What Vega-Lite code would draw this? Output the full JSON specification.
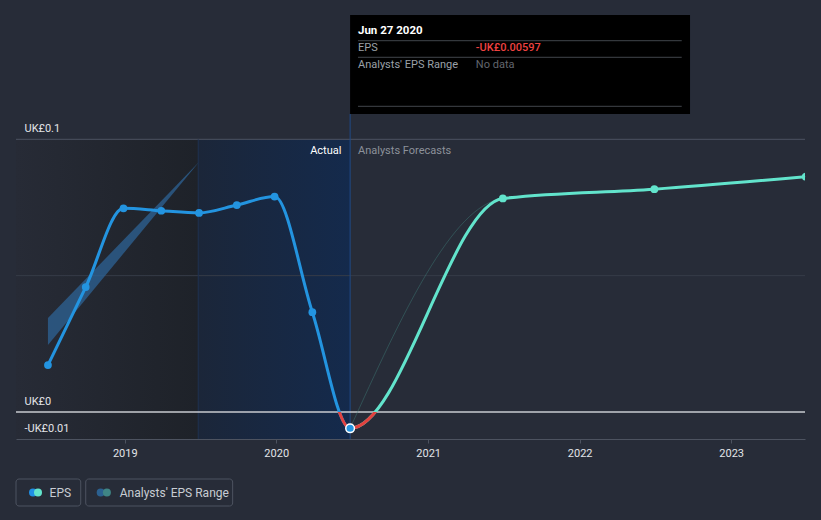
{
  "$schema": "https://vega.github.io/schema/vega-lite/v6.json",
  "width": 789,
  "height": 520,
  "autosize": "none",
  "padding": {"left": 16, "right": 16, "top": 0, "bottom": 0},
  "background": "#272c38",
  "config": {"view": {"stroke": null}, "font": "Roboto", "text": {"font": "Roboto"}},
  "datasets": {
    "eps": [
      {"x": "2018-06-30", "y": 0.0172, "kind": "actual"},
      {"x": "2018-09-29", "y": 0.0458, "kind": "actual"},
      {"x": "2018-12-29", "y": 0.0747, "kind": "actual"},
      {"x": "2019-03-30", "y": 0.0738, "kind": "actual"},
      {"x": "2019-06-29", "y": 0.0730, "kind": "actual"},
      {"x": "2019-09-28", "y": 0.0759, "kind": "actual"},
      {"x": "2019-12-28", "y": 0.0790, "kind": "actual"},
      {"x": "2020-03-28", "y": 0.0366, "kind": "actual"},
      {"x": "2020-06-27", "y": -0.00597, "kind": "current"},
      {"x": "2021-06-30", "y": 0.0783, "kind": "forecast"},
      {"x": "2022-06-30", "y": 0.0817, "kind": "forecast"},
      {"x": "2023-06-30", "y": 0.0863, "kind": "forecast"}
    ],
    "rangeActual": [
      {"x": "2018-06-30", "y": 0.0246, "y2": 0.0345},
      {"x": "2019-06-29", "y": 0.0917, "y2": 0.0917}
    ],
    "rangeForecast": [
      {"x": "2020-06-27", "y": -0.00597},
      {"x": "2021-06-30", "y": 0.0783},
      {"x": "2022-06-30", "y": 0.0817},
      {"x": "2023-06-30", "y": 0.0863}
    ],
    "pastRegion": [{"x": "2018-04-14", "x2": "2019-06-27", "y": 0.1, "y2": -0.0099}],
    "lastYearRegion": [{"x": "2019-06-27", "x2": "2020-06-27", "y": 0.1, "y2": -0.0099}],
    "gridMid": [{"x": "2018-04-14", "x2": "2023-06-28", "y": 0.05}],
    "gridTop": [{"x": "2018-04-14", "x2": "2023-06-28", "y": 0.1}],
    "zero": [{"x": "2018-04-14", "x2": "2023-06-28", "y": 0}],
    "vlineStart": [{"x": "2019-06-27", "y": -0.0099, "y2": 0.1}],
    "vlineNow": [{"x": "2020-06-27", "y": -0.0099, "y2": 0.1093}],
    "secActual": [{"x": "2020-06-06", "y": 0.0957, "label": "Actual"}],
    "secForecast": [{"x": "2020-07-16", "y": 0.0957, "label": "Analysts Forecasts"}],
    "tipBox": [{"x": "2020-06-27", "x2": "2022-09-24", "y": 0.14558, "y2": 0.10928}],
    "tipLines": [
      {"x": "2020-07-16", "x2": "2022-09-04", "y": 0.13616},
      {"x": "2020-07-16", "x2": "2022-09-04", "y": 0.13007},
      {"x": "2020-07-16", "x2": "2022-09-04", "y": 0.1121}
    ],
    "tipTitle": [{"x": "2020-07-16", "y": 0.13971, "label": "Jun 27 2020"}],
    "tipKeys": [
      {"x": "2020-07-16", "y": 0.13337, "label": "EPS"},
      {"x": "2020-07-16", "y": 0.12725, "label": "Analysts' EPS Range"}
    ],
    "tipNeg": [{"x": "2021-04-26", "y": 0.13337, "label": "-UK£0.00597"}],
    "tipNone": [{"x": "2021-04-26", "y": 0.12725, "label": "No data"}],
    "legendBoxes": [
      {"x": "2018-04-14", "x2": "2018-09-17", "y": -0.02457, "y2": -0.03447},
      {"x": "2018-09-29", "x2": "2019-09-18", "y": -0.02457, "y2": -0.03447}
    ],
    "dotEps1": [{"x": "2018-05-25", "y": -0.02952}],
    "dotEps2": [{"x": "2018-06-06", "y": -0.02952}],
    "dotRng1": [{"x": "2018-11-04", "y": -0.02952}],
    "dotRng2": [{"x": "2018-11-19", "y": -0.02952}],
    "legendText": [
      {"x": "2018-07-04", "y": -0.02952, "label": "EPS"},
      {"x": "2018-12-20", "y": -0.02952, "label": "Analysts' EPS Range"}
    ]
  },
  "encoding": {
    "x": {
      "field": "x",
      "type": "temporal",
      "title": null,
      "scale": {
        "type": "utc",
        "nice": false,
        "domain": [
          {"year": 2018, "month": 4, "date": 14, "utc": true},
          {"year": 2023, "month": 6, "date": 28, "utc": true}
        ]
      },
      "axis": {
        "orient": "bottom",
        "offset": -81,
        "values": [
          {"year": 2019, "utc": true},
          {"year": 2020, "utc": true},
          {"year": 2021, "utc": true},
          {"year": 2022, "utc": true},
          {"year": 2023, "utc": true}
        ],
        "format": "%Y",
        "grid": false,
        "tickSize": 4,
        "tickColor": "#4d5360",
        "domainColor": "#4d5360",
        "labelColor": "#e2e4e8",
        "labelFontSize": 11,
        "labelPadding": 4,
        "labelFlush": false,
        "labelFont": "Roboto"
      }
    },
    "y": {
      "field": "y",
      "type": "quantitative",
      "title": null,
      "scale": {"domain": [-0.0396, 0.15108], "nice": false, "zero": false},
      "axis": {
        "orient": "left",
        "zindex": 1,
        "values": [-0.0099, 0, 0.1],
        "labelExpr": "datum.value > 0.05 ? 'UK£0.1' : (datum.value < 0 ? '-UK£0.01' : 'UK£0')",
        "ticks": false,
        "domain": false,
        "grid": false,
        "labelAlign": "left",
        "labelBaseline": "alphabetic",
        "labelPadding": -8,
        "labelOffset": -8,
        "labelColor": "#e2e4e8",
        "labelFontSize": 11,
        "labelFlush": false,
        "labelOverlap": false,
        "labelFont": "Roboto"
      }
    }
  },
  "layer": [
    {
      "data": {"name": "pastRegion"},
      "mark": {"type": "rect", "fill": {"gradient": "linear", "x1": 0, "y1": 0, "x2": 1, "y2": 0, "stops": [{"offset": 0, "color": "#272b36"}, {"offset": 1, "color": "#1e2229"}]}},
      "encoding": {"x2": {"field": "x2"}, "y2": {"field": "y2"}}
    },
    {
      "data": {"name": "lastYearRegion"},
      "mark": {"type": "rect", "fill": {"gradient": "linear", "x1": 0, "y1": 0, "x2": 1, "y2": 0, "stops": [{"offset": 0, "color": "#1b2639"}, {"offset": 1, "color": "#142a4c"}]}},
      "encoding": {"x2": {"field": "x2"}, "y2": {"field": "y2"}}
    },
    {
      "data": {"name": "gridMid"},
      "mark": {"type": "rule", "stroke": "#363c48", "strokeWidth": 1},
      "encoding": {"x2": {"field": "x2"}}
    },
    {
      "data": {"name": "gridTop"},
      "mark": {"type": "rule", "stroke": "#4d5362", "strokeWidth": 1},
      "encoding": {"x2": {"field": "x2"}}
    },
    {
      "data": {"name": "vlineStart"},
      "mark": {"type": "rule", "stroke": "#1f3150", "strokeWidth": 1},
      "encoding": {"y2": {"field": "y2"}}
    },
    {
      "data": {"name": "vlineNow"},
      "mark": {"type": "rule", "stroke": "#1f4a86", "strokeWidth": 1},
      "encoding": {"y2": {"field": "y2"}}
    },
    {
      "data": {"name": "zero"},
      "mark": {"type": "rule", "stroke": "#c9cbd0", "strokeWidth": 1.5},
      "encoding": {"x2": {"field": "x2"}}
    },
    {
      "data": {"name": "rangeActual"},
      "mark": {"type": "area", "fill": "#2e6396", "opacity": 0.75},
      "encoding": {"y2": {"field": "y2"}}
    },
    {
      "data": {"name": "rangeForecast"},
      "mark": {"type": "line", "interpolate": "monotone", "stroke": "#3f7d78", "strokeWidth": 1, "opacity": 0.45},
      "encoding": {}
    },
    {
      "data": {"name": "eps"},
      "mark": {
        "type": "line",
        "interpolate": "monotone",
        "strokeWidth": 3,
        "clip": true,
        "stroke": {"gradient": "linear", "x1": 0, "y1": 0, "x2": 1, "y2": 0, "stops": [
          {"offset": 0, "color": "#2394e0"},
          {"offset": 0.3987, "color": "#2394e0"},
          {"offset": 0.3987, "color": "#62e4cc"},
          {"offset": 1, "color": "#62e4cc"}
        ]}
      },
      "encoding": {}
    },
    {
      "data": {"name": "eps"},
      "mark": {
        "type": "line",
        "interpolate": "monotone",
        "strokeWidth": 3,
        "clip": true,
        "stroke": {"gradient": "linear", "x1": 0, "y1": 0, "x2": 0, "y2": 1, "stops": [
          {"offset": 0, "color": "rgba(226,66,63,0)"},
          {"offset": 0.9353, "color": "rgba(226,66,63,0)"},
          {"offset": 0.9353, "color": "#e2423f"},
          {"offset": 1, "color": "#e2423f"}
        ]}
      },
      "encoding": {}
    },
    {
      "data": {"name": "eps"},
      "transform": [{"filter": "datum.kind == 'actual'"}],
      "mark": {"type": "point", "filled": true, "size": 60, "opacity": 1, "fill": "#2394e0", "clip": true},
      "encoding": {}
    },
    {
      "data": {"name": "eps"},
      "transform": [{"filter": "datum.kind == 'forecast'"}],
      "mark": {"type": "point", "filled": true, "size": 60, "opacity": 1, "fill": "#62e4cc", "clip": true},
      "encoding": {}
    },
    {
      "data": {"name": "eps"},
      "transform": [{"filter": "datum.kind == 'current'"}],
      "mark": {"type": "point", "filled": true, "size": 75, "fill": "#2394e0", "stroke": "#ffffff", "strokeWidth": 1.5, "opacity": 1},
      "encoding": {}
    },
    {
      "data": {"name": "secActual"},
      "mark": {"type": "text", "fontSize": 11, "align": "right", "baseline": "middle", "color": "#ffffff", "font": "Roboto"},
      "encoding": {"text": {"field": "label"}}
    },
    {
      "data": {"name": "secForecast"},
      "mark": {"type": "text", "fontSize": 11, "align": "left", "baseline": "middle", "color": "#8c919a", "font": "Roboto"},
      "encoding": {"text": {"field": "label"}}
    },
    {
      "data": {"name": "tipBox"},
      "mark": {"type": "rect", "fill": "#000000"},
      "encoding": {"x2": {"field": "x2"}, "y2": {"field": "y2"}}
    },
    {
      "data": {"name": "tipLines"},
      "mark": {"type": "rule", "stroke": "#41454c", "strokeWidth": 1},
      "encoding": {"x2": {"field": "x2"}}
    },
    {
      "data": {"name": "tipTitle"},
      "mark": {"type": "text", "align": "left", "baseline": "middle", "fontSize": 11.5, "fontWeight": "bold", "color": "#ffffff", "font": "Roboto"},
      "encoding": {"text": {"field": "label"}}
    },
    {
      "data": {"name": "tipKeys"},
      "mark": {"type": "text", "align": "left", "baseline": "middle", "fontSize": 11, "color": "#9ba0a8", "font": "Roboto"},
      "encoding": {"text": {"field": "label"}}
    },
    {
      "data": {"name": "tipNeg"},
      "mark": {"type": "text", "align": "left", "baseline": "middle", "fontSize": 11, "fontWeight": 500, "color": "#ee4240", "font": "Roboto"},
      "encoding": {"text": {"field": "label"}}
    },
    {
      "data": {"name": "tipNone"},
      "mark": {"type": "text", "align": "left", "baseline": "middle", "fontSize": 11, "color": "#62666e", "font": "Roboto"},
      "encoding": {"text": {"field": "label"}}
    },
    {
      "data": {"name": "legendBoxes"},
      "mark": {"type": "rect", "fill": "transparent", "stroke": "#4d5360", "strokeWidth": 1, "cornerRadius": 3},
      "encoding": {"x2": {"field": "x2"}, "y2": {"field": "y2"}}
    },
    {
      "data": {"name": "dotEps1"},
      "mark": {"type": "circle", "size": 64, "opacity": 1, "fill": "#1f8fe5"},
      "encoding": {}
    },
    {
      "data": {"name": "dotEps2"},
      "mark": {"type": "circle", "size": 64, "opacity": 1, "fill": "#62e4cc"},
      "encoding": {}
    },
    {
      "data": {"name": "dotRng1"},
      "mark": {"type": "circle", "size": 64, "opacity": 1, "fill": "#2b6090"},
      "encoding": {}
    },
    {
      "data": {"name": "dotRng2"},
      "mark": {"type": "circle", "size": 64, "opacity": 1, "fill": "#3f8585"},
      "encoding": {}
    },
    {
      "data": {"name": "legendText"},
      "mark": {"type": "text", "align": "left", "baseline": "middle", "fontSize": 12, "color": "#c8ccd3", "font": "Roboto"},
      "encoding": {"text": {"field": "label"}}
    }
  ]
}
